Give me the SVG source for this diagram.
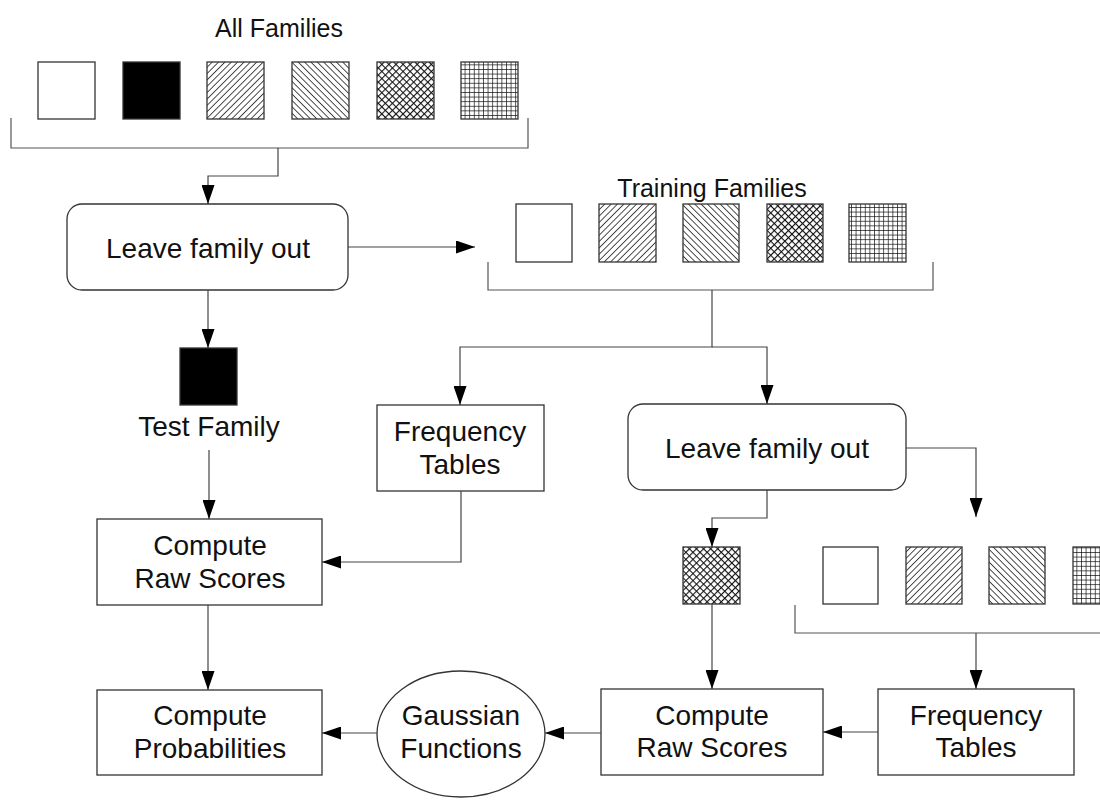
<svg xmlns="http://www.w3.org/2000/svg" width="1100" height="800" viewBox="0 0 1100 800">
<style>
text{font-family:'Liberation Sans',Arial,Helvetica,sans-serif;font-size:28px;fill:#111;text-anchor:middle}
.box{fill:#fff;stroke:#333;stroke-width:1.3}
.sq{stroke:#333;stroke-width:1.3}
.ln{fill:none;stroke:#444;stroke-width:1.2}
.br{fill:none;stroke:#555;stroke-width:1.2}
</style>
<defs>
<marker id="ah" viewBox="0 0 19 13" refX="19" refY="6.5" markerWidth="19" markerHeight="13" markerUnits="userSpaceOnUse" orient="auto">
<path d="M0,0 L19,6.5 L0,13 Z" fill="#000"/>
</marker>
<pattern id="fwd" patternUnits="userSpaceOnUse" width="4.5" height="4.5" patternTransform="rotate(45)">
<rect width="4.5" height="4.5" fill="#fff"/><line x1="0" y1="0" x2="0" y2="4.5" stroke="#111" stroke-width="1.5"/>
</pattern>
<pattern id="bwd" patternUnits="userSpaceOnUse" width="4.5" height="4.5" patternTransform="rotate(-45)">
<rect width="4.5" height="4.5" fill="#fff"/><line x1="0" y1="0" x2="0" y2="4.5" stroke="#111" stroke-width="1.5"/>
</pattern>
<pattern id="xh" patternUnits="userSpaceOnUse" width="5" height="5" patternTransform="rotate(45)">
<rect width="5" height="5" fill="#fff"/><line x1="0" y1="0" x2="0" y2="5" stroke="#111" stroke-width="2.2"/><line x1="0" y1="0" x2="5" y2="0" stroke="#111" stroke-width="2.2"/>
</pattern>
<pattern id="grid" patternUnits="userSpaceOnUse" width="4.6" height="4.6">
<rect width="4.6" height="4.6" fill="#fff"/><line x1="0" y1="0" x2="0" y2="4.6" stroke="#111" stroke-width="1.4"/><line x1="0" y1="0" x2="4.6" y2="0" stroke="#111" stroke-width="1.4"/>
</pattern>
</defs>
<rect width="1100" height="800" fill="#fff"/>

<g id="all-families">
<text x="279" y="37" style="font-size:25px">All Families</text>
<rect class="sq" x="38" y="62" width="57" height="57" fill="#fff"/>
<rect class="sq" x="123" y="62" width="57" height="57" fill="#000"/>
<rect class="sq" x="207" y="62" width="57" height="57" fill="url(#fwd)"/>
<rect class="sq" x="292" y="62" width="57" height="57" fill="url(#bwd)"/>
<rect class="sq" x="377" y="62" width="57" height="57" fill="url(#xh)"/>
<rect class="sq" x="461" y="62" width="57" height="57" fill="url(#grid)"/>
<path class="br" d="M11,118 V148 H528 V118"/>
</g>

<g id="leave-out-1">
<rect class="box" x="67" y="204" width="281" height="86" rx="15"/>
<text x="208" y="258">Leave family out</text>
</g>

<g id="training-families">
<text x="712" y="197" style="font-size:25px">Training Families</text>
<rect class="sq" x="516" y="204" width="56" height="58" fill="#fff"/>
<rect class="sq" x="599" y="204" width="57" height="58" fill="url(#fwd)"/>
<rect class="sq" x="683" y="204" width="56" height="58" fill="url(#bwd)"/>
<rect class="sq" x="767" y="204" width="56" height="58" fill="url(#xh)"/>
<rect class="sq" x="849" y="204" width="57" height="58" fill="url(#grid)"/>
<path class="br" d="M488,262 V290 H933 V262"/>
</g>

<g id="test-family">
<rect class="sq" x="180" y="348" width="57" height="57" fill="#000"/>
<text x="209" y="436">Test Family</text>
</g>

<g id="freq-1">
<rect class="box" x="377" y="405" width="167" height="86"/>
<text x="460" y="441">Frequency</text>
<text x="460" y="474">Tables</text>
</g>

<g id="leave-out-2">
<rect class="box" x="628" y="404" width="278" height="86" rx="15"/>
<text x="767" y="458">Leave family out</text>
</g>

<g id="raw-1">
<rect class="box" x="97" y="519" width="225" height="86"/>
<text x="210" y="555">Compute</text>
<text x="210" y="588">Raw Scores</text>
</g>

<g id="left-out-2">
<rect class="sq" x="683" y="547" width="57" height="57" fill="url(#xh)"/>
</g>

<g id="remaining-families">
<rect class="sq" x="823" y="547" width="55" height="57" fill="#fff"/>
<rect class="sq" x="906" y="547" width="56" height="57" fill="url(#fwd)"/>
<rect class="sq" x="989" y="547" width="56" height="57" fill="url(#bwd)"/>
<rect class="sq" x="1073" y="547" width="56" height="57" fill="url(#grid)"/>
<path class="br" d="M795,605 V633 H1100"/>
</g>

<g id="prob">
<rect class="box" x="97" y="690" width="225" height="85"/>
<text x="210" y="725">Compute</text>
<text x="210" y="758">Probabilities</text>
</g>

<g id="gaussian">
<ellipse class="box" cx="461" cy="734" rx="84" ry="63"/>
<text x="461" y="725">Gaussian</text>
<text x="461" y="758">Functions</text>
</g>

<g id="raw-2">
<rect class="box" x="601" y="689" width="222" height="86"/>
<text x="712" y="725">Compute</text>
<text x="712" y="757">Raw Scores</text>
</g>

<g id="freq-2">
<rect class="box" x="878" y="689" width="196" height="86"/>
<text x="976" y="725">Frequency</text>
<text x="976" y="757">Tables</text>
</g>

<g id="connectors">
<path class="ln" d="M278,148 V176 H208 V204" marker-end="url(#ah)"/>
<path class="ln" d="M348,247 H475" marker-end="url(#ah)"/>
<path class="ln" d="M208,290 V348" marker-end="url(#ah)"/>
<path class="ln" d="M712,290 V347 H460 V405" marker-end="url(#ah)"/>
<path class="ln" d="M712,347 H767 V404" marker-end="url(#ah)"/>
<path class="ln" d="M209,450 V519" marker-end="url(#ah)"/>
<path class="ln" d="M461,491 V562 H322" marker-end="url(#ah)"/>
<path class="ln" d="M767,490 V518 H712 V547" marker-end="url(#ah)"/>
<path class="ln" d="M906,448 H976 V517" marker-end="url(#ah)"/>
<path class="ln" d="M712,604 V689" marker-end="url(#ah)"/>
<path class="ln" d="M976,633 V689" marker-end="url(#ah)"/>
<path class="ln" d="M208,605 V690" marker-end="url(#ah)"/>
<path class="ln" d="M377,733 H322" marker-end="url(#ah)"/>
<path class="ln" d="M601,733 H545" marker-end="url(#ah)"/>
<path class="ln" d="M878,732 H823" marker-end="url(#ah)"/>
</g>
</svg>
